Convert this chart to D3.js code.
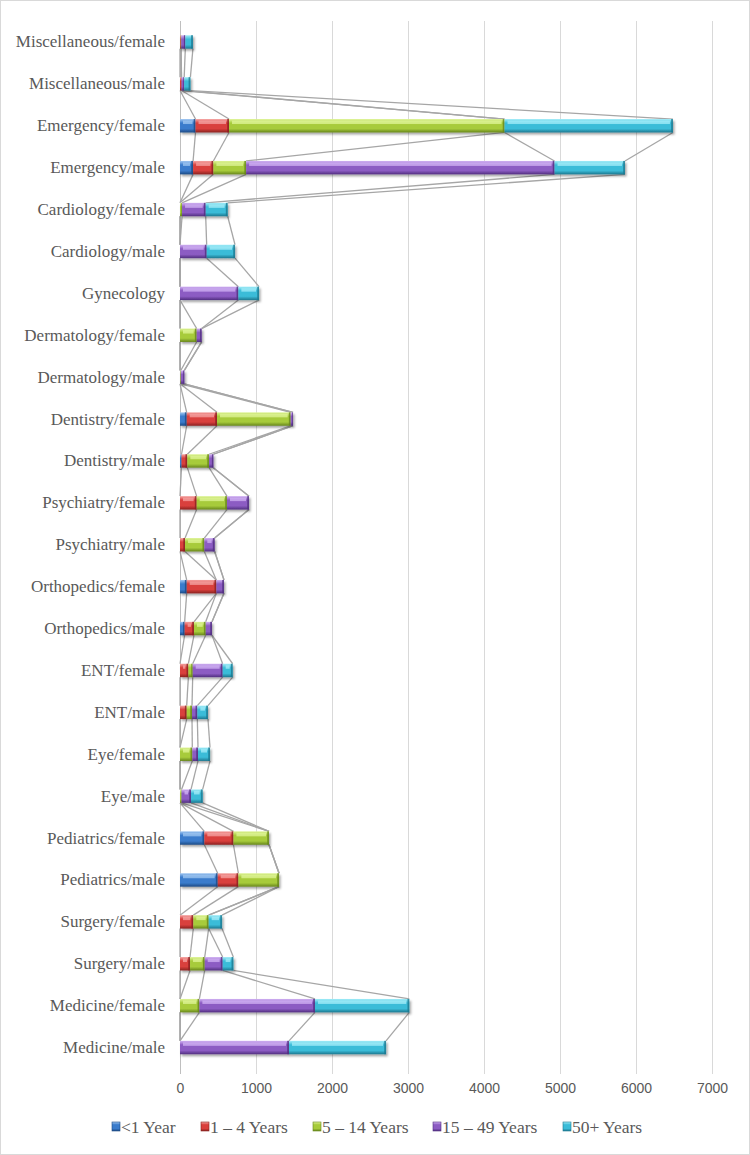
<!DOCTYPE html>
<html><head><meta charset="utf-8">
<script src="https://cdn.jsdelivr.net/npm/d3@7/dist/d3.min.js"></script>
<style>body{margin:0;background:#fff}svg{display:block}</style>
</head><body>
<svg id="chart" width="750" height="1155"></svg>
<script>
// Categories, top to bottom as drawn
const categories = ["Miscellaneous/female","Miscellaneous/male","Emergency/female","Emergency/male","Cardiology/female","Cardiology/male","Gynecology","Dermatology/female","Dermatology/male","Dentistry/female","Dentistry/male","Psychiatry/female","Psychiatry/male","Orthopedics/female","Orthopedics/male","ENT/female","ENT/male","Eye/female","Eye/male","Pediatrics/female","Pediatrics/male","Surgery/female","Surgery/male","Medicine/female","Medicine/male"];
const seriesNames = ["<1 Year","1 \u2013 4 Years","5 \u2013 14 Years","15 \u2013 49 Years","50+ Years"];
const under1   = [0,0,204,172,0,0,0,0,0,88,20,0,0,88,61,0,0,0,0,320,496,0,0,0,0];
const age1to4  = [10,20,441,267,0,0,0,0,0,399,76,219,66,390,123,110,88,0,0,383,272,175,132,0,0];
const age5to14 = [5,0,3625,431,27,0,0,219,10,969,286,399,254,0,154,57,70,162,20,468,535,202,193,255,0];
const age15to49= [55,35,0,4058,311,351,768,66,47,31,57,290,136,101,83,394,70,75,125,0,0,0,236,1521,1434];
const age50plus= [100,82,2216,927,289,373,272,0,0,0,0,0,0,0,0,132,140,158,153,0,0,176,141,1241,1277];
const xTicks = [0,1000,2000,3000,4000,5000,6000,7000];

const seriesValues = [under1, age1to4, age5to14, age15to49, age50plus];
const palette = [
  {base:"#3b7ccc", light:"#a2c8f2", dark:"#1d4a84"},
  {base:"#d93f3c", light:"#f5a6a4", dark:"#8a2220"},
  {base:"#a7cb3b", light:"#e0f59a", dark:"#67861c"},
  {base:"#8c5cc3", light:"#d2b3f4", dark:"#512f80"},
  {base:"#3bbcd8", light:"#a5eef9", dark:"#1d7890"}
];

const svg = d3.select("#chart");
svg.append("rect").attr("x",0.5).attr("y",0.5).attr("width",749).attr("height",1154)
  .attr("fill","#fff").attr("stroke","#d9d9d9");

const defs = svg.append("defs");
palette.forEach((c,i)=>{
  const g = defs.append("linearGradient").attr("id","g"+i).attr("x1",0).attr("y1",0).attr("x2",0).attr("y2",1);
  g.append("stop").attr("offset","0%").attr("stop-color",c.light);
  g.append("stop").attr("offset","30%").attr("stop-color",c.base);
  g.append("stop").attr("offset","72%").attr("stop-color",c.base);
  g.append("stop").attr("offset","100%").attr("stop-color",c.dark);
});
const f = defs.append("filter").attr("id","sh").attr("x","-10%").attr("y","-50%").attr("width","130%").attr("height","220%");
f.append("feDropShadow").attr("dx",1.5).attr("dy",2).attr("stdDeviation",1.2).attr("flood-color","#000").attr("flood-opacity",0.35);

const x = d3.scaleLinear().domain([0,7000]).range([180,712]);
const y = d3.scaleBand().domain(categories).range([21,1068.5]).paddingInner(0.68).paddingOuter(0.34);

// gridlines
svg.append("g").selectAll("line").data(xTicks).join("line")
  .attr("x1",d=>x(d)+0.5).attr("x2",d=>x(d)+0.5).attr("y1",21).attr("y2",1074)
  .attr("stroke",d=>d===0?"#bfbfbf":"#d9d9d9").attr("stroke-width",1);

// x axis labels
const xAxis = d3.axisBottom(x).tickValues(xTicks).tickSize(0).tickPadding(0).tickFormat(d3.format("d"));
const ax = svg.append("g").attr("transform","translate(0,1083)").call(xAxis);
ax.select(".domain").remove();
ax.selectAll("text").attr("font-family","Liberation Sans, Arial, sans-serif").attr("font-size",14).attr("fill","#595959");

// y labels
const yAxis = d3.axisLeft(y).tickSize(0).tickPadding(0);
const ay = svg.append("g").attr("transform","translate(165,0)").call(yAxis);
ay.select(".domain").remove();
ay.selectAll("text").attr("font-family","Liberation Serif, Times New Roman, serif").attr("font-size",17).attr("fill","#595959");

// stacked data
const table = categories.map((c,i)=>{const o={cat:c}; seriesNames.forEach((s,j)=>o[s]=seriesValues[j][i]); return o;});
const stacked = d3.stack().keys(seriesNames)(table);

// series lines
const bh = y.bandwidth();
const lineG = svg.append("g");
stacked.forEach(layer=>{
  for(let i=0;i<categories.length-1;i++){
    lineG.append("line")
      .attr("x1",x(layer[i][1])).attr("y1",y(categories[i])+bh)
      .attr("x2",x(layer[i+1][1])).attr("y2",y(categories[i+1]))
      .attr("stroke","#a6a6a6").attr("stroke-width",1.3);
  }
});

// bars
stacked.forEach((layer,si)=>{
  const g = svg.append("g").attr("filter","url(#sh)");
  const segs = layer.map((d,i)=>({x0:d[0],x1:d[1],cat:categories[i]})).filter(d=>d.x1>d.x0);
  g.selectAll("rect.b").data(segs).join("rect").attr("class","b")
    .attr("x",d=>x(d.x0)).attr("y",d=>y(d.cat))
    .attr("width",d=>Math.max(0.8,x(d.x1)-x(d.x0))).attr("height",bh)
    .attr("fill","url(#g"+si+")");
  // end shading
  g.selectAll("rect.e").data(segs).join("rect").attr("class","e")
    .attr("x",d=>x(d.x1)-Math.min(1.8,(x(d.x1)-x(d.x0))/3)).attr("y",d=>y(d.cat))
    .attr("width",d=>Math.min(1.8,(x(d.x1)-x(d.x0))/3)).attr("height",bh)
    .attr("fill",palette[si].dark).attr("opacity",0.8);
  // highlight
  g.selectAll("rect.h").data(segs.filter(d=>x(d.x1)-x(d.x0)>8)).join("rect").attr("class","h")
    .attr("x",d=>x(d.x0)+3).attr("y",d=>y(d.cat)+1.5)
    .attr("width",d=>x(d.x1)-x(d.x0)-6).attr("height",3.5)
    .attr("fill",palette[si].light).attr("opacity",0.75);
});

// legend
const legendX = [112,201,313,433,563];
const lg = svg.append("g");
seriesNames.forEach((s,i)=>{
  const gi = lg.append("g").attr("transform",`translate(${legendX[i]},1127)`);
  gi.append("rect").attr("x",0).attr("y",-5).attr("width",8).attr("height",9).attr("fill","url(#g"+i+")")
    .attr("stroke",palette[i].dark).attr("stroke-width",0.6);
  gi.append("text").attr("x",9).attr("y",0).attr("dy","0.35em").text(s)
    .attr("font-family","Liberation Serif, Times New Roman, serif").attr("font-size",17.5).attr("fill","#595959");
});
</script>
</body></html>
